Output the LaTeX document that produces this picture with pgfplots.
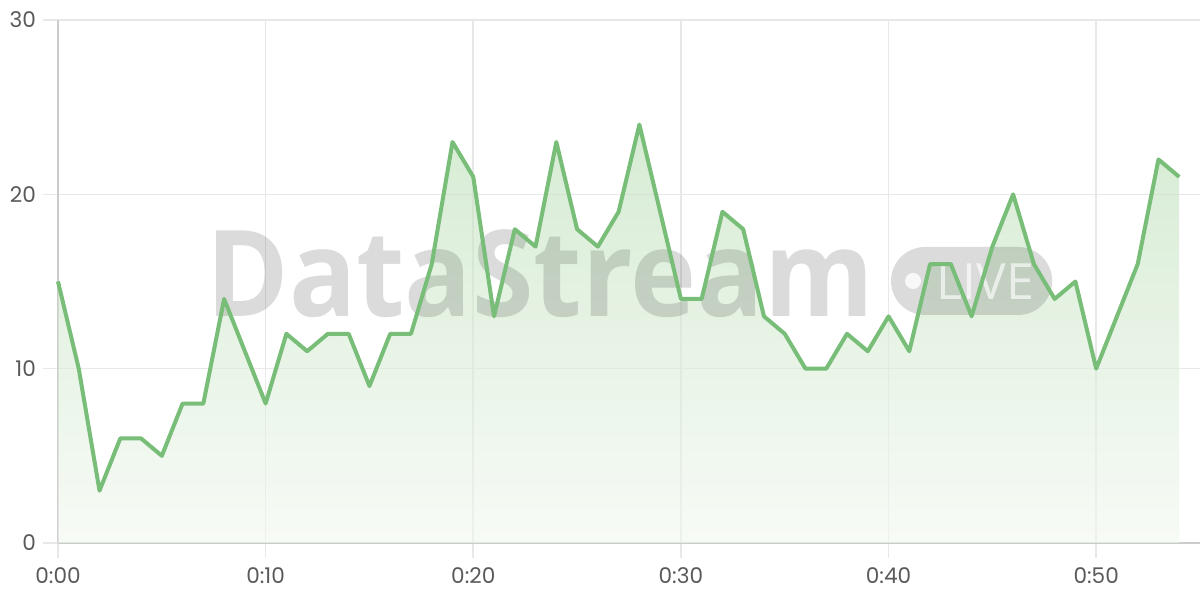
\documentclass[border=0pt]{standalone}
\usepackage{fontspec}
\setmainfont{Poppins}
\newfontfamily\wmfont{Open Sans}
\usepackage{pgfplots}
\usepackage{pgfplotstable}
\pgfplotsset{compat=1.18}
\definecolor{linegreen}{RGB}{120,189,120}
\definecolor{filltop}{RGB}{187,223,183}
\definecolor{fillbot}{RGB}{242,248,240}
\definecolor{gridgray}{RGB}{232,232,232}
\definecolor{axisgray}{RGB}{204,204,204}
\definecolor{labelgray}{RGB}{90,90,90}

\pgfplotstableread{
x y
0 15
1 10
2 3
3 6
4 6
5 5
6 8
7 8
8 14
9 11
10 8
11 12
12 11
13 12
14 12
15 9
16 12
17 12
18 16
19 23
20 21
21 13
22 18
23 17
24 23
25 18
26 17
27 19
28 24
29 19
30 14
31 14
32 19
33 18
34 13
35 12
36 10
37 10
38 12
39 11
40 13
41 11
42 16
43 16
44 13
45 17
46 20
47 16
48 14
49 15
50 10
51 13
52 16
53 22
54 21
}\datatable

\begin{document}
\begin{tikzpicture}
\path[use as bounding box] (0,0) rectangle (600pt,300pt);
\begin{axis}[
  at={(29pt,28.5pt)}, anchor=south west,
  scale only axis, width=571pt, height=261.5pt,
  xmin=0, xmax=55, ymin=0, ymax=30,
  axis lines*=left,
  axis line style={draw=axisgray, line width=1pt},
  xmajorgrids, ymajorgrids,
  grid style={draw=gridgray, line width=0.8pt},
  major tick length=7.5pt, tick align=outside,
  tick style={draw=gridgray, line width=0.8pt},
  xtick={0,10,20,30,40,50},
  xticklabels={0:00,0:10,0:20,0:30,0:40,0:50},
  ytick={0,10,20,30},
  ticklabel style={font=\fontsize{10.8pt}{12pt}\selectfont, text=labelgray},
  xticklabel style={yshift=-1.5pt},
  /pgf/number format/assume math mode=true,
  clip=false,
]
\addplot[draw=none, top color=filltop, bottom color=fillbot, fill opacity=0.6] table[x=x,y=y] {\datatable} \closedcycle;
% watermark
\node[anchor=base, inner sep=0pt, xscale=0.93, text=black, text opacity=0.14, font=\wmfont\bfseries\fontsize{60pt}{60pt}\selectfont] at (axis cs:23.22,12.97) {DataStream};
\fill[black, opacity=0.14, rounded corners=17pt] (axis cs:40.12,13.08) rectangle (axis cs:47.88,16.98);
\fill[white, opacity=0.8] (axis cs:41.18,15.03) circle[radius=4pt];
\node[anchor=base, inner sep=0pt, text=white, text opacity=0.65, font=\wmfont\fontsize{25pt}{25pt}\selectfont] at (axis cs:44.68,13.94) {LIVE};
\addplot[linegreen, line width=2pt, line join=round, mark=none] table[x=x,y=y] {\datatable};
\end{axis}
\end{tikzpicture}
\end{document}
